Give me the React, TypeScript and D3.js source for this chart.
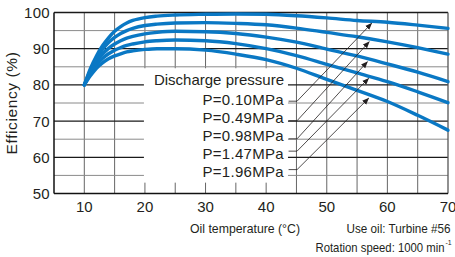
import * as d3 from "d3";

// oil temperature (°C) sample points
const temps = [10, 11, 12, 13, 14, 15, 16, 17, 18, 20, 22, 25, 30, 35, 40, 45, 50, 55, 60, 65, 70];

// efficiency (%) per discharge pressure
const p010 = [80, 84.5, 88, 90.8, 93, 94.8, 96.1, 97.1, 97.8, 98.6, 99, 99.3, 99.5, 99.6, 99.5, 99.1, 98.5, 97.8, 97.3, 96.5, 95.6];
const p049 = [80, 84, 87.3, 89.8, 91.7, 93.1, 94.2, 95, 95.6, 96.4, 96.8, 97.1, 97.2, 97, 96.6, 95.7, 94.5, 93.3, 91.9, 90.3, 88.5];
const p098 = [80, 83.5, 86.4, 88.5, 90.1, 91.3, 92.2, 92.9, 93.4, 94.1, 94.5, 94.8, 94.7, 94.2, 93.2, 91.8, 89.9, 88, 85.8, 83.5, 80.9];
const p147 = [80, 83, 85.5, 87.3, 88.6, 89.6, 90.3, 90.9, 91.3, 91.9, 92.2, 92.4, 92.2, 91.4, 90, 88.1, 85.7, 83.3, 80.9, 78.1, 75.1];
const p196 = [80, 82.5, 84.6, 86.1, 87.2, 88, 88.6, 89.1, 89.4, 89.8, 90, 90, 89.6, 88.5, 87, 84.6, 81.5, 78.5, 75.4, 71.6, 67.5];

const series = [p010, p049, p098, p147, p196];
const labels = ["P=0.10MPa", "P=0.49MPa", "P=0.98MPa", "P=1.47MPa", "P=1.96MPa"];

// leader lines: start height and arrow tip, in data units
const leaderStartY = [75.5, 70.1, 65.1, 61.7, 56.6];
const arrowTipX = [57.4, 57.0, 56.7, 56.9, 56.9];
const arrowTipY = [97.0, 91.9, 86.4, 81.8, 76.3];

const xTicks = [10, 20, 30, 40, 50, 60, 70];
const yTicks = [50, 60, 70, 80, 90, 100];

const W = 455;
const H = 257;
const FONT = "'Liberation Sans', Arial, Helvetica, sans-serif";
const BLUE = "#0a78c4";
const INK = "#231f20";

const x = d3.scaleLinear().domain([5, 70]).range([54, 448]);
const y = d3.scaleLinear().domain([50, 100]).range([193.5, 12.5]);

const line = d3
  .line<number>()
  .x((_, i) => x(temps[i]))
  .y((d) => y(d))
  .curve(d3.curveMonotoneX);

export default function App() {
  const vGrid = d3.range(10, 70, 5);
  const hGrid = d3.range(55, 100, 5);

  // white panel behind the legend
  const box = { x0: x(20) - 1, x1: x(43.6), y0: y(84.6), y1: y(53) };
  const rowY = (i: number) => 104.5 + i * 18.2;

  return (
    <svg width={W} height={H} style={{ position: "absolute", left: 0, top: 0, background: "#fff" }} fontFamily={FONT}>
      <defs>
        <marker id="arr" viewBox="0 0 10 10" refX="9" refY="5" markerWidth="7" markerHeight="7" orient="auto" markerUnits="userSpaceOnUse">
          <path d="M0,1 L10,5 L0,9 Z" fill={INK} />
        </marker>
      </defs>

      {/* grid */}
      {vGrid.map((t) => (
        <line key={"v" + t} x1={x(t)} x2={x(t)} y1={y(100)} y2={y(50)} stroke="#666" strokeWidth={1} />
      ))}
      {hGrid.map((t) => (
        <line
          key={"h" + t}
          x1={x(5)}
          x2={x(70)}
          y1={y(t)}
          y2={y(t)}
          stroke={t % 10 === 0 ? "#1a1a1a" : "#8a8a8a"}
          strokeWidth={t % 10 === 0 ? 1.3 : 1}
        />
      ))}

      {/* frame */}
      <line x1={x(5)} x2={x(70)} y1={y(100)} y2={y(100)} stroke="#1a1a1a" strokeWidth={1.3} />
      <line x1={x(70)} x2={x(70)} y1={y(100)} y2={y(50)} stroke="#555" strokeWidth={1.3} />

      <rect x={box.x0} y={box.y0} width={box.x1 - box.x0} height={box.y1 - box.y0} fill="#fff" />

      <line x1={x(5)} x2={x(70)} y1={y(50)} y2={y(50)} stroke="#111" strokeWidth={1.5} />
      <line x1={x(5)} x2={x(5)} y1={y(100)} y2={y(50)} stroke="#111" strokeWidth={1.5} />

      {/* curves */}
      {series.map((s, i) => (
        <path key={i} d={line(s) ?? ""} fill="none" stroke={BLUE} strokeWidth={3.4} strokeLinecap="round" />
      ))}

      {/* legend */}
      <text x={284} y={85} textAnchor="end" fontSize={15} fill={INK}>
        Discharge pressure
      </text>
      {labels.map((l, i) => (
        <text key={l} x={284} y={rowY(i)} textAnchor="end" fontSize={15} fill={INK} letterSpacing={0.3}>
          {l}
        </text>
      ))}
      {labels.map((l, i) => (
        <path
          key={"ld" + l}
          d={`M${x(43.7)},${y(leaderStartY[i])} L${x(45.1)},${y(leaderStartY[i])} L${x(arrowTipX[i])},${y(arrowTipY[i])}`}
          fill="none"
          stroke={INK}
          strokeWidth={0.8}
          markerEnd="url(#arr)"
        />
      ))}

      {/* axis labels */}
      {yTicks.map((t) => (
        <text key={"yl" + t} x={50} y={y(t) + 5.5} textAnchor="end" fontSize={15} fill={INK} letterSpacing={0.3}>
          {t}
        </text>
      ))}
      {xTicks.map((t) => (
        <text key={"xl" + t} x={x(t)} y={211.5} textAnchor="middle" fontSize={15} fill={INK}>
          {t}
        </text>
      ))}

      <text transform={`translate(17,${(y(50) + y(100)) / 2}) rotate(-90)`} textAnchor="middle" fontSize={15.5} fill={INK} letterSpacing={0.6}>
        Efficiency (%)
      </text>

      <text x={190} y={233} fontSize={13.5} fill={INK} textLength={110} lengthAdjust="spacingAndGlyphs">
        Oil temperature (°C)
      </text>
      <text x={346.5} y={233} fontSize={13.5} fill={INK} textLength={104} lengthAdjust="spacingAndGlyphs">
        Use oil: Turbine #56
      </text>
      <text x={315.5} y={251.5} fontSize={13.5} fill={INK}>
        <tspan textLength={129} lengthAdjust="spacingAndGlyphs">Rotation speed: 1000 min</tspan>
        <tspan x={445.5} dy={-7} fontSize={7}>
          -1
        </tspan>
      </text>
    </svg>
  );
}
